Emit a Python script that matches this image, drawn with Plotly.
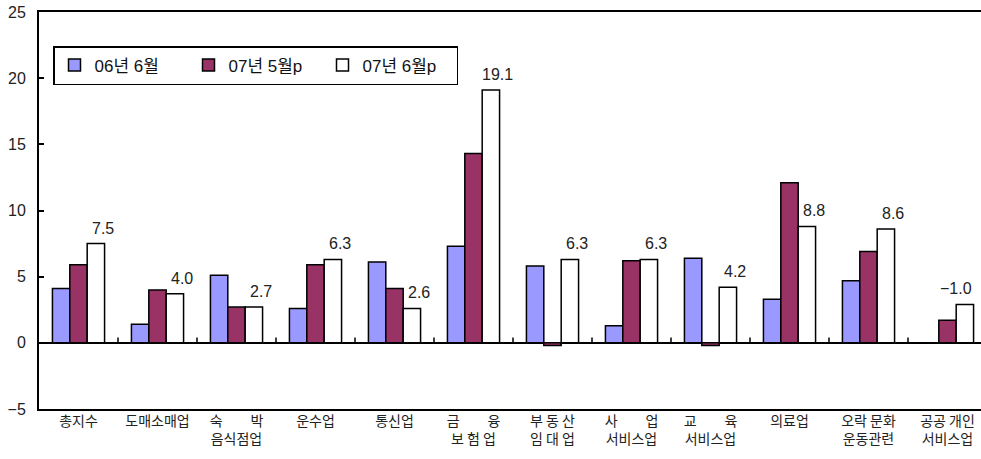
import plotly.graph_objects as go

categories = [
    "총지수", "도매소매업", "숙\u3000\u3000박<br>음식점업", "운수업", "통신업",
    "금\u3000\u3000융<br>보 험 업", "부 동 산<br>임 대 업", "사\u3000\u3000업<br>서비스업",
    "교\u3000\u3000육<br>서비스업", "의료업", "오락 문화<br>운동관련", "공공 개인<br>서비스업",
]
series_names = ["06년 6월", "07년 5월p", "07년 6월p"]
s_0606 = [4.1, 1.4, 5.1, 2.6, 6.1, 7.3, 5.8, 1.3, 6.4, 3.3, 4.7, None]
s_0705 = [5.9, 4.0, 2.7, 5.9, 4.1, 14.3, -0.2, 6.2, -0.2, 12.1, 6.9, 1.7]
s_0706 = [7.5, 3.7, 2.7, 6.3, 2.6, 19.1, 6.3, 6.3, 4.2, 8.8, 8.6, 2.9]
labels_0706 = ["7.5", "4.0", "2.7", "6.3", "2.6", "19.1", "6.3", "6.3", "4.2", "8.8", "8.6", "\u22121.0"]
y_ticks = [-5, 0, 5, 10, 15, 20, 25]

colors = ["#9999FF", "#993366", "#FFFFFF"]
FONT = "Liberation Sans, Noto Sans CJK KR, sans-serif"
KFONT = "Noto Sans CJK KR, sans-serif"
W, H = 981, 459
ML, MR, MT, MB = 39, 0, 12, 50
cat_px = 79.0
plot_w = W - ML - MR
plot_h = H - MT - MB
x_max = -0.5 + plot_w / cat_px
bargap = 0.34

fig = go.Figure()
for name, vals, col in zip(series_names, [s_0606, s_0705, s_0706], colors):
    fig.add_trace(go.Bar(
        x=list(range(len(categories))), y=vals, name=name,
        marker=dict(color=col, line=dict(color="black", width=1.5)),
    ))

# data labels above the white bars
bar_w = (1 - bargap) / 3
n = len(categories)
for i, (v, t) in enumerate(zip(s_0706, labels_0706)):
    if i == n - 1:
        # keep the last label inside the visible area (right-aligned to the bar)
        fig.add_annotation(x=i + bar_w * 1.5, y=v, text=t, showarrow=False,
                           xref="x", yref="y", xanchor="right", yanchor="bottom",
                           xshift=0, yshift=5, font=dict(family=FONT, size=16, color="#222222"))
    else:
        fig.add_annotation(x=i + bar_w, y=v, text=t, showarrow=False,
                           xref="x", yref="y", xanchor="center", yanchor="bottom",
                           xshift=7, yshift=5, font=dict(family=FONT, size=16, color="#222222"))

# small category ticks on the zero line
shapes = []
for i in range(n):
    b = i + 0.5
    if b < x_max:
        shapes.append(dict(type="line", xref="x", yref="y", x0=b, x1=b, y0=0, y1=0.4,
                           line=dict(color="black", width=1.5)))
fig.update_layout(shapes=shapes)

fig.update_layout(
    width=W, height=H,
    margin=dict(l=ML, r=MR, t=MT, b=MB, autoexpand=False),
    paper_bgcolor="white", plot_bgcolor="white",
    barmode="group", bargap=bargap, bargroupgap=0,
    font=dict(family=FONT, size=14, color="black"),
    showlegend=True,
    legend=dict(
        orientation="h", x=(53 - ML) / plot_w, y=(H - MB - 46) / plot_h,
        xanchor="left", yanchor="top",
        bordercolor="black", borderwidth=1.5, bgcolor="white",
        font=dict(family=FONT, size=17, color="#111111"),
        entrywidth=89, traceorder="normal",
    ),
    xaxis=dict(
        tickmode="array", tickvals=list(range(n)), ticktext=categories,
        range=[-0.5, x_max], showline=True, linecolor="black", linewidth=2,
        mirror=True, ticks="", showgrid=False, zeroline=False, automargin=False,
        tickfont=dict(family=KFONT, size=14, color="#222222"), ticklabelstandoff=-2,
    ),
    yaxis=dict(
        range=[-5, 25], tickvals=y_ticks, showline=True, linecolor="black", linewidth=2,
        ticks="inside", ticklen=5, tickwidth=1.5, tickcolor="black", automargin=False,
        showgrid=False, zeroline=True, zerolinecolor="black", zerolinewidth=1.5,
        tickfont=dict(family=FONT, size=16, color="#222222"), ticklabelstandoff=8,
        ticklabeloverflow="allow",
    ),
)

fig.write_html(
    "out.html",
    config={"displayModeBar": False},
    post_script="document.body.style.margin='0';document.body.style.overflow='hidden';",
)
